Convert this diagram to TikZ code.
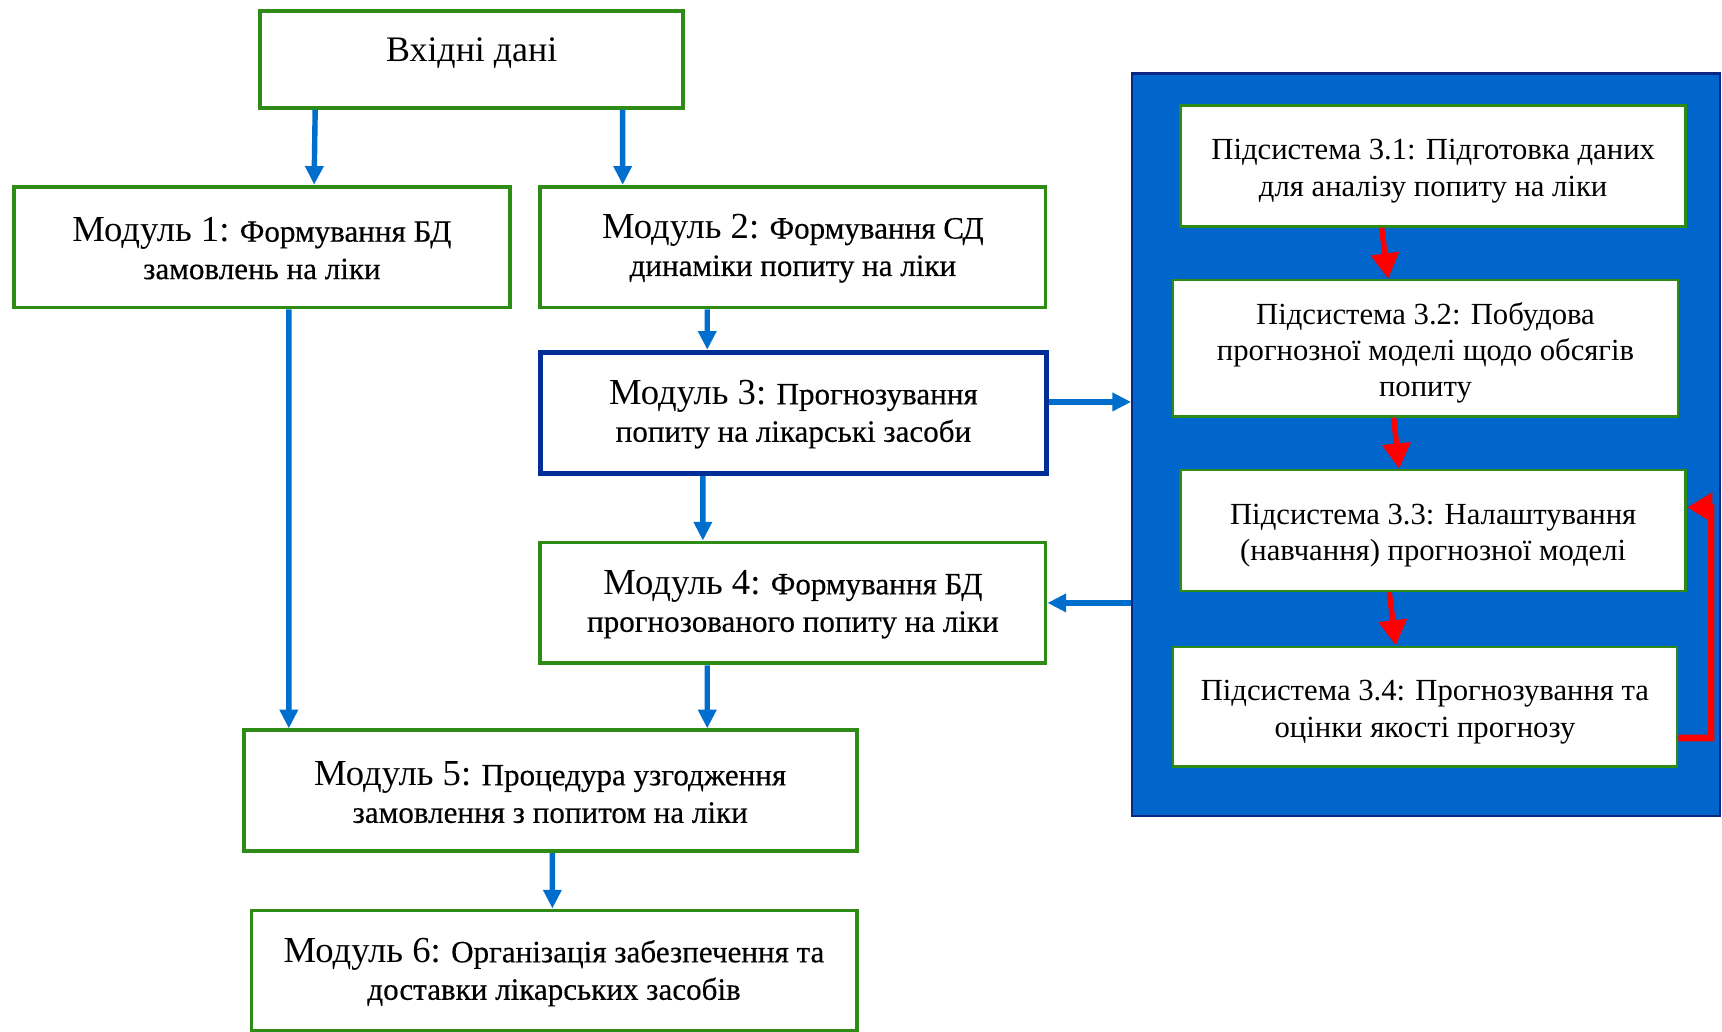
\documentclass[tikz,border=0pt]{standalone}
\usepackage{fontspec}
\setmainfont{Liberation Serif}
\newfontfamily\heavyfont[FakeBold=0.35]{Liberation Serif}
\usetikzlibrary{positioning, arrows.meta}
\definecolor{BoxGreen}{RGB}{46,139,22}
\definecolor{ArrowBlue}{RGB}{0,110,205}
\definecolor{PanelBlue}{RGB}{0,102,204}
\definecolor{PanelEdge}{RGB}{10,40,130}
\definecolor{NavyEdge}{RGB}{0,45,150}
\definecolor{FlowRed}{RGB}{255,0,0}
\newcommand{\modname}[1]{{\rmfamily\fontsize{19}{19.4}\selectfont\rule{0pt}{14pt}#1}}
\newcommand{\modtext}{\heavyfont\fontsize{16.1}{19.4}\selectfont}
\newcommand{\topgap}{\rule{0pt}{16.1pt}}

\begin{document}
\begin{tikzpicture}[x=0.2mm, y=-0.2mm,
    modbox/.style={draw=BoxGreen, line width=2pt, fill=white, align=center, inner sep=0pt,
      minimum width=92mm, minimum height=22mm, font=\modtext},
    subbox/.style={draw=BoxGreen, line width=1.4pt, fill=white, align=center, inner sep=0pt,
      minimum width=92mm, minimum height=22mm, font=\fontsize{15.9}{18.8}\selectfont},
    panelbox/.style={draw=PanelEdge, line width=1.2pt, fill=PanelBlue, inner sep=0pt},
    bluearrow/.style={ArrowBlue, line width=2.8pt, -{Triangle[length=3.4mm, width=3.2mm]}},
    redarrow/.style={FlowRed, line width=2.8pt, -{Triangle[length=4.6mm, width=5mm]}},
    loopback/.style={FlowRed, line width=3.4pt, -{Triangle[length=4.6mm, width=5.2mm]}}]
  \path[use as bounding box, fill=white] (0,0) rectangle (1568,939);

  % left column: modules
  \node[draw=BoxGreen, line width=2pt, inner sep=0pt, minimum width=77mm, minimum height=17.6mm,
    font=\fontsize{18.6}{19.4}\selectfont, text height=12.6pt, text depth=10.6pt]
    (inp) at (429.5,54) {Вхідні дані};
  \node[modbox, minimum width=90.2mm] (m1) at (238.5,225) {\modname{Модуль 1:} Формування БД\\замовлень на ліки};
  \node[modbox] (m2) at (722,225) {\modname{Модуль 2:} Формування СД\\динаміки попиту на ліки};
  \node[modbox, draw=NavyEdge, line width=2.9pt, minimum width=92.2mm] (m3) at (722.5,376)
    {\modname{Модуль 3:} Прогнозування\\попиту на лікарські засоби};
  \node[modbox] (m4) at (722,549) {\modname{Модуль 4:} Формування БД\\прогнозованого попиту на ліки};
  \node[modbox, minimum width=111.6mm] (m5) at (501,720) {\modname{Модуль 5:} Процедура узгодження\\замовлення з попитом на ліки};
  \node[modbox, minimum width=110.2mm] (m6) at (504.5,884) {\modname{Модуль 6:} Організація забезпечення та\\доставки лікарських засобів};

  % right panel: subsystems of module 3
  \node[panelbox, minimum width=107mm, minimum height=135.2mm] (panel) at (1298.5,405) {};
  \node[subbox] (s31) at (1305,151) {\topgap Підсистема 3.1: Підготовка даних\\для аналізу попиту на ліки};
  \node[subbox, minimum height=24.8mm] (s32) at (1298,317) {\topgap Підсистема 3.2: Побудова\\прогнозної моделі щодо обсягів\\попиту};
  \node[subbox] (s33) at (1305,483) {\topgap Підсистема 3.3: Налаштування\\(навчання) прогнозної моделі};
  \node[subbox, minimum width=91.8mm, minimum height=21.8mm] (s34) at (1297.5,643.5) {\topgap Підсистема 3.4: Прогнозування та\\оцінки якості прогнозу};
  \coordinate (fb) at (1558,462);

  % blue connectors
  \draw[bluearrow] ([xshift=-28.5mm]inp.south) -- ([xshift=9.5mm]m1.north);
  \draw[bluearrow] ([xshift=27.5mm]inp.south) -- ([xshift=-31mm]m2.north);
  \draw[bluearrow] ([xshift=4.9mm]m1.south) -- ([xshift=-47.6mm]m5.north);
  \draw[bluearrow] ([xshift=-15.6mm]m2.south) -- ([xshift=-15.7mm]m3.north);
  \draw[bluearrow] ([xshift=-16.5mm]m3.south) -- ([xshift=-16.4mm]m4.north);
  \draw[bluearrow] ([xshift=-15.6mm]m4.south) -- ([xshift=28.6mm]m5.north);
  \draw[bluearrow] ([xshift=0.4mm]m5.south) -- ([xshift=-0.3mm]m6.north);
  \draw[bluearrow] ([yshift=2mm]m3.east) -- ([yshift=2mm]m3.east -| panel.west);
  \draw[bluearrow] (panel.west |- m4.east) -- (m4.east);

  % red connectors
  \draw[redarrow] ([xshift=-9.4mm]s31.south) -- ([xshift=-6.8mm]s32.north);
  \draw[redarrow] ([xshift=-5.8mm]s32.south) -- ([xshift=-6.2mm]s33.north);
  \draw[redarrow] ([xshift=-8mm]s33.south) -- ([xshift=-5.3mm]s34.north);
  \draw[loopback] ([yshift=-5.7mm]s34.east) -| (fb) -- ([yshift=4.2mm]s33.east);
\end{tikzpicture}
\end{document}
